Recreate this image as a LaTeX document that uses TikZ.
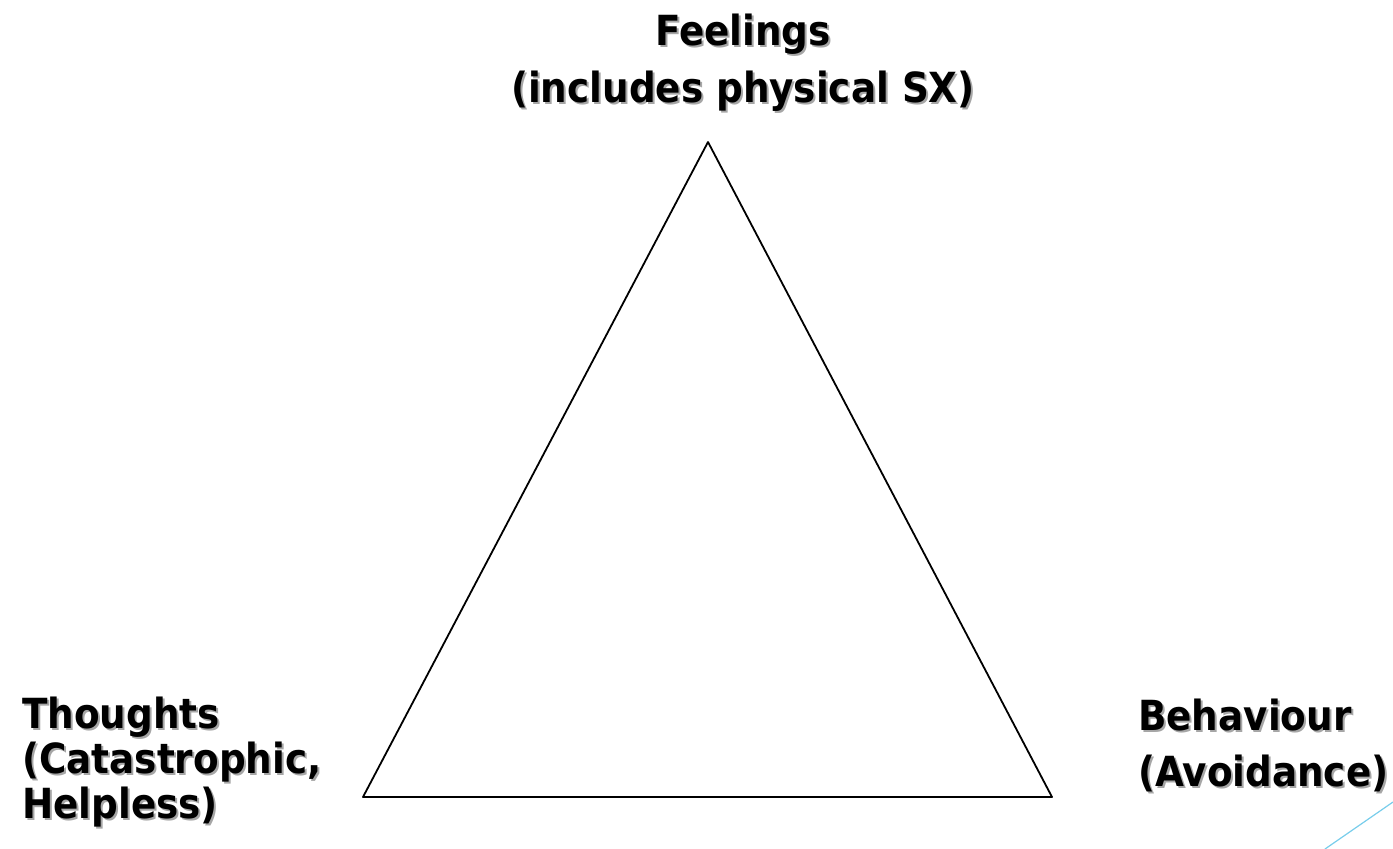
\documentclass[tikz,border=0pt]{standalone}
\usepackage{fontspec}
\setmainfont{DejaVu Sans Condensed}
\definecolor{accentblue}{RGB}{120,205,235}
\tikzset{
  lbl/.style={font=\bfseries\fontsize{41.5}{#1}\selectfont, inner sep=0pt, align=left},
  lblshade/.style={lbl=#1, text=black!35},
}
\begin{document}
\begin{tikzpicture}[x=1pt, y=-1pt, line join=round, line cap=round]
  \useasboundingbox (0,0) rectangle (1393,849);
  % corners of the triangle
  \path
  (708,142) coordinate (top)
  (363,797) coordinate (left)
  (1052,797) coordinate (right)
  ;
  \draw[line width=1.8pt] (top) -- (right) -- (left) -- cycle;
  % labels, each with a soft shadow behind it
  \node[lblshade=57, align=center, anchor=north] (feelsh) at (745,16) {Feelings\\(includes physical SX)};
  \node[lbl=57, align=center, anchor=north] (feel) at (743,14) {Feelings\\(includes physical SX)};
  \node[lblshade=45, anchor=north west] (thoughtsh) at (24,699) {Thoughts\\(Catastrophic,\\Helpless)};
  \node[lbl=45, anchor=north west] (thought) at (22,697) {Thoughts\\(Catastrophic,\\Helpless)};
  \node[lblshade=56, anchor=north west] (behavsh) at (1140,701) {Behaviour\\(Avoidance)};
  \node[lbl=56, anchor=north west] (behav) at (1138,699) {Behaviour\\(Avoidance)};
  % slide accent line
  \coordinate (a1) at (1325,849);
  \coordinate (a2) at (1393,802);
  \draw[accentblue, line width=1.2pt] (a1) -- (a2);
\end{tikzpicture}
\end{document}
